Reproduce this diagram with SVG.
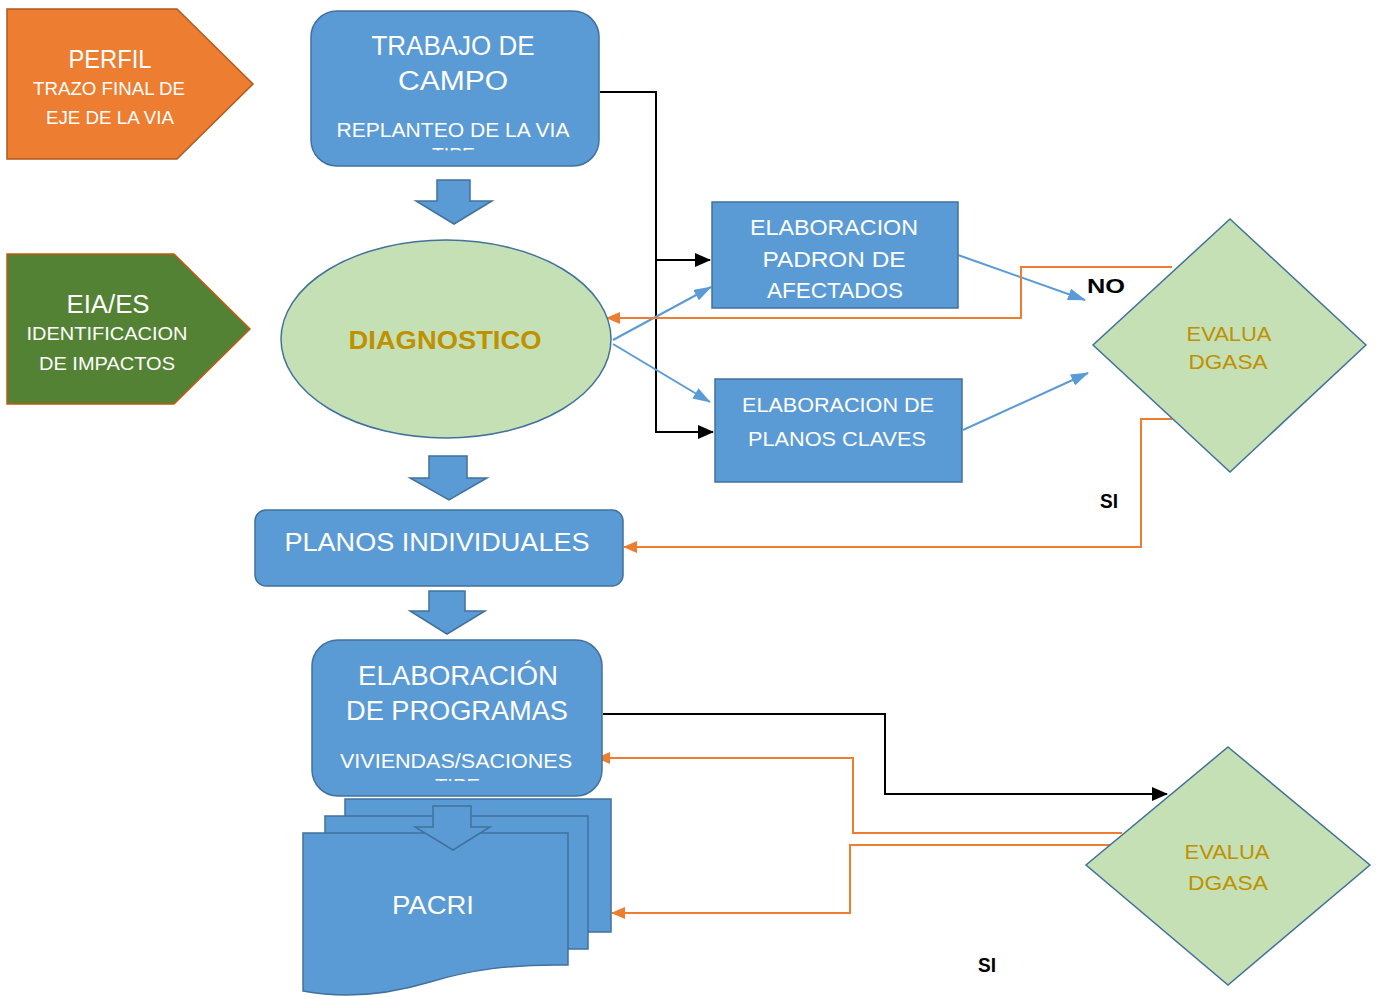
<svg xmlns="http://www.w3.org/2000/svg" width="1376" height="998" viewBox="0 0 1376 998">
<style>
.t{font-family:"Liberation Sans","DejaVu Sans",sans-serif;fill:#fff;text-anchor:middle}
.g{font-family:"Liberation Sans","DejaVu Sans",sans-serif;fill:#BF9000;text-anchor:middle}
.b{font-family:"Liberation Sans","DejaVu Sans",sans-serif;font-weight:bold;fill:#000;text-anchor:middle}
.box{fill:#5B9BD5;stroke:#41719C;stroke-width:1.5}
.dia{fill:#C5E0B4;stroke:#41719C;stroke-width:1.5}
.blk{fill:none;stroke:#000;stroke-width:2}
.blu{fill:none;stroke:#5B9BD5;stroke-width:2}
.org{fill:none;stroke:#ED7D31;stroke-width:2}
</style>
<defs>
<marker id="mb" markerUnits="userSpaceOnUse" markerWidth="16" markerHeight="14" refX="15" refY="7" orient="auto"><path d="M0,0 L16,7 L0,14 Z" fill="#000"/></marker>
<marker id="mu" markerUnits="userSpaceOnUse" markerWidth="18" markerHeight="12" refX="17" refY="6" orient="auto"><path d="M0,0 L18,6 L0,12 Z" fill="#5B9BD5"/></marker>
<marker id="mo" markerUnits="userSpaceOnUse" markerWidth="14" markerHeight="12" refX="13" refY="6" orient="auto"><path d="M0,0 L14,6 L0,12 Z" fill="#ED7D31"/></marker>
<clipPath id="c1"><rect x="311" y="11" width="288" height="139.5"/></clipPath>
<clipPath id="c2"><rect x="312" y="640" width="290" height="141"/></clipPath>
</defs>

<g id="connectors">
<polyline class="blk" points="600,92 656,92 656,432 713,432" marker-end="url(#mb)"/>
<polyline class="blk" points="656,260 710,260" marker-end="url(#mb)"/>
<line class="blu" x1="613" y1="340" x2="711" y2="287" marker-end="url(#mu)"/>
<line class="blu" x1="613" y1="344" x2="710" y2="402" marker-end="url(#mu)"/>
<line class="blu" x1="958" y1="255" x2="1085" y2="300" marker-end="url(#mu)"/>
<line class="blu" x1="963" y1="430" x2="1088" y2="373" marker-end="url(#mu)"/>
<polyline class="org" points="1172,267 1021,267 1021,318 607,318" marker-end="url(#mo)"/>
<polyline class="org" points="1172,419 1141,419 1141,547 624,547" marker-end="url(#mo)"/>
<polyline class="blk" points="603,714 885,714 885,794 1167,794" marker-end="url(#mb)"/>
<polyline class="org" points="1122,833 853,833 853,758 597,758" marker-end="url(#mo)"/>
<polyline class="org" points="1148,845 850,845 850,913 612,913" marker-end="url(#mo)"/>
</g>

<g id="perfil">
<polygon points="7,9 177,9 253,84 177,159 7,159" fill="#ED7D31" stroke="#AE5A21" stroke-width="1.5"/>
<text class="t" x="110" y="68" font-size="26" textLength="83" lengthAdjust="spacingAndGlyphs">PERFIL</text>
<text class="t" x="109" y="95" font-size="19" textLength="152" lengthAdjust="spacingAndGlyphs">TRAZO FINAL DE</text>
<text class="t" x="110" y="124" font-size="19" textLength="128" lengthAdjust="spacingAndGlyphs">EJE DE LA VIA</text>
</g>

<g id="eia">
<polygon points="7,254 174,254 250,329 174,404 7,404" fill="#548235" stroke="#C55A11" stroke-width="1.5"/>
<text class="t" x="108" y="313" font-size="26" textLength="83" lengthAdjust="spacingAndGlyphs">EIA/ES</text>
<text class="t" x="107" y="340" font-size="19" textLength="161" lengthAdjust="spacingAndGlyphs">IDENTIFICACION</text>
<text class="t" x="107" y="370" font-size="19" textLength="136" lengthAdjust="spacingAndGlyphs">DE IMPACTOS</text>
</g>

<g id="trabajo">
<rect class="box" x="311" y="11" width="288" height="155" rx="26"/>
<text class="t" x="453" y="55" font-size="27" textLength="163" lengthAdjust="spacingAndGlyphs">TRABAJO DE</text>
<text class="t" x="453" y="90" font-size="27" textLength="110" lengthAdjust="spacingAndGlyphs">CAMPO</text>
<text class="t" x="453" y="137" font-size="20" textLength="233" lengthAdjust="spacingAndGlyphs">REPLANTEO DE LA VIA</text>
<text class="t" x="453.5" y="162.3" font-size="20" textLength="43" lengthAdjust="spacingAndGlyphs" clip-path="url(#c1)">TIPE</text>
</g>

<g id="arrow1"><polygon class="box" points="437,180 470,180 470,201 492,201 454,224 416,201 437,201"/></g>

<g id="diagnostico">
<ellipse class="dia" cx="446" cy="339" rx="165" ry="99"/>
<text class="g" x="445" y="349" font-size="25" font-weight="bold" textLength="193" lengthAdjust="spacingAndGlyphs">DIAGNOSTICO</text>
</g>

<g id="padron">
<rect class="box" x="712" y="202" width="246" height="106"/>
<text class="t" x="834" y="235" font-size="22" textLength="168" lengthAdjust="spacingAndGlyphs">ELABORACION</text>
<text class="t" x="834" y="267" font-size="22" textLength="143" lengthAdjust="spacingAndGlyphs">PADRON DE</text>
<text class="t" x="835" y="298" font-size="22" textLength="136" lengthAdjust="spacingAndGlyphs">AFECTADOS</text>
</g>

<g id="planos-claves">
<rect class="box" x="715" y="379" width="247" height="103"/>
<text class="t" x="838" y="412" font-size="21" textLength="192" lengthAdjust="spacingAndGlyphs">ELABORACION DE</text>
<text class="t" x="837" y="446" font-size="21" textLength="178" lengthAdjust="spacingAndGlyphs">PLANOS CLAVES</text>
</g>

<g id="evalua1">
<polygon class="dia" points="1230,219 1366,345 1230,472 1093,345"/>
<text class="g" x="1229" y="341" font-size="21" textLength="85" lengthAdjust="spacingAndGlyphs">EVALUA</text>
<text class="g" x="1228" y="369" font-size="21" textLength="79" lengthAdjust="spacingAndGlyphs">DGASA</text>
</g>

<text class="b" x="1106" y="293" font-size="20" textLength="38" lengthAdjust="spacingAndGlyphs">NO</text>
<text class="b" x="1109" y="508" font-size="20" textLength="18" lengthAdjust="spacingAndGlyphs">SI</text>

<g id="arrow2"><polygon class="box" points="429,456 467,456 467,478 487,478 449,500 410,478 429,478"/></g>

<g id="planos-individuales">
<rect class="box" x="255" y="510" width="368" height="76" rx="11"/>
<text class="t" x="437" y="551" font-size="26" textLength="305" lengthAdjust="spacingAndGlyphs">PLANOS INDIVIDUALES</text>
</g>

<g id="arrow3"><polygon class="box" points="429,591 465,591 465,611 485,611 447,634 410,611 429,611"/></g>

<g id="programas">
<rect class="box" x="312" y="640" width="290" height="156" rx="26"/>
<text class="t" x="458" y="685" font-size="27" textLength="200" lengthAdjust="spacingAndGlyphs">ELABORACIÓN</text>
<text class="t" x="457" y="720" font-size="27" textLength="222" lengthAdjust="spacingAndGlyphs">DE PROGRAMAS</text>
<text class="t" x="456" y="768" font-size="20" textLength="232" lengthAdjust="spacingAndGlyphs">VIVIENDAS/SACIONES</text>
<text class="t" x="457.5" y="792.6" font-size="20" textLength="45" lengthAdjust="spacingAndGlyphs" clip-path="url(#c2)">TIPE</text>
</g>

<g id="pacri">
<rect class="box" x="345" y="799" width="266" height="133"/>
<rect class="box" x="325" y="816" width="263" height="133"/>
<path class="box" d="M303,833 H568 V965 C510,964 470,970 430,982 C390,994 345,999 303,991 Z"/>
<text class="t" x="433" y="914" font-size="26" textLength="82" lengthAdjust="spacingAndGlyphs">PACRI</text>
</g>

<g id="arrow4"><polygon class="box" points="433,806 471,806 471,827 490,827 453,850 415,827 433,827"/></g>

<g id="evalua2">
<polygon class="dia" points="1228,747 1370,865 1228,985 1086,865"/>
<text class="g" x="1227" y="859" font-size="21" textLength="85" lengthAdjust="spacingAndGlyphs">EVALUA</text>
<text class="g" x="1228" y="890" font-size="21" textLength="80" lengthAdjust="spacingAndGlyphs">DGASA</text>
</g>

<text class="b" x="987" y="972" font-size="20" textLength="18" lengthAdjust="spacingAndGlyphs">SI</text>
</svg>
